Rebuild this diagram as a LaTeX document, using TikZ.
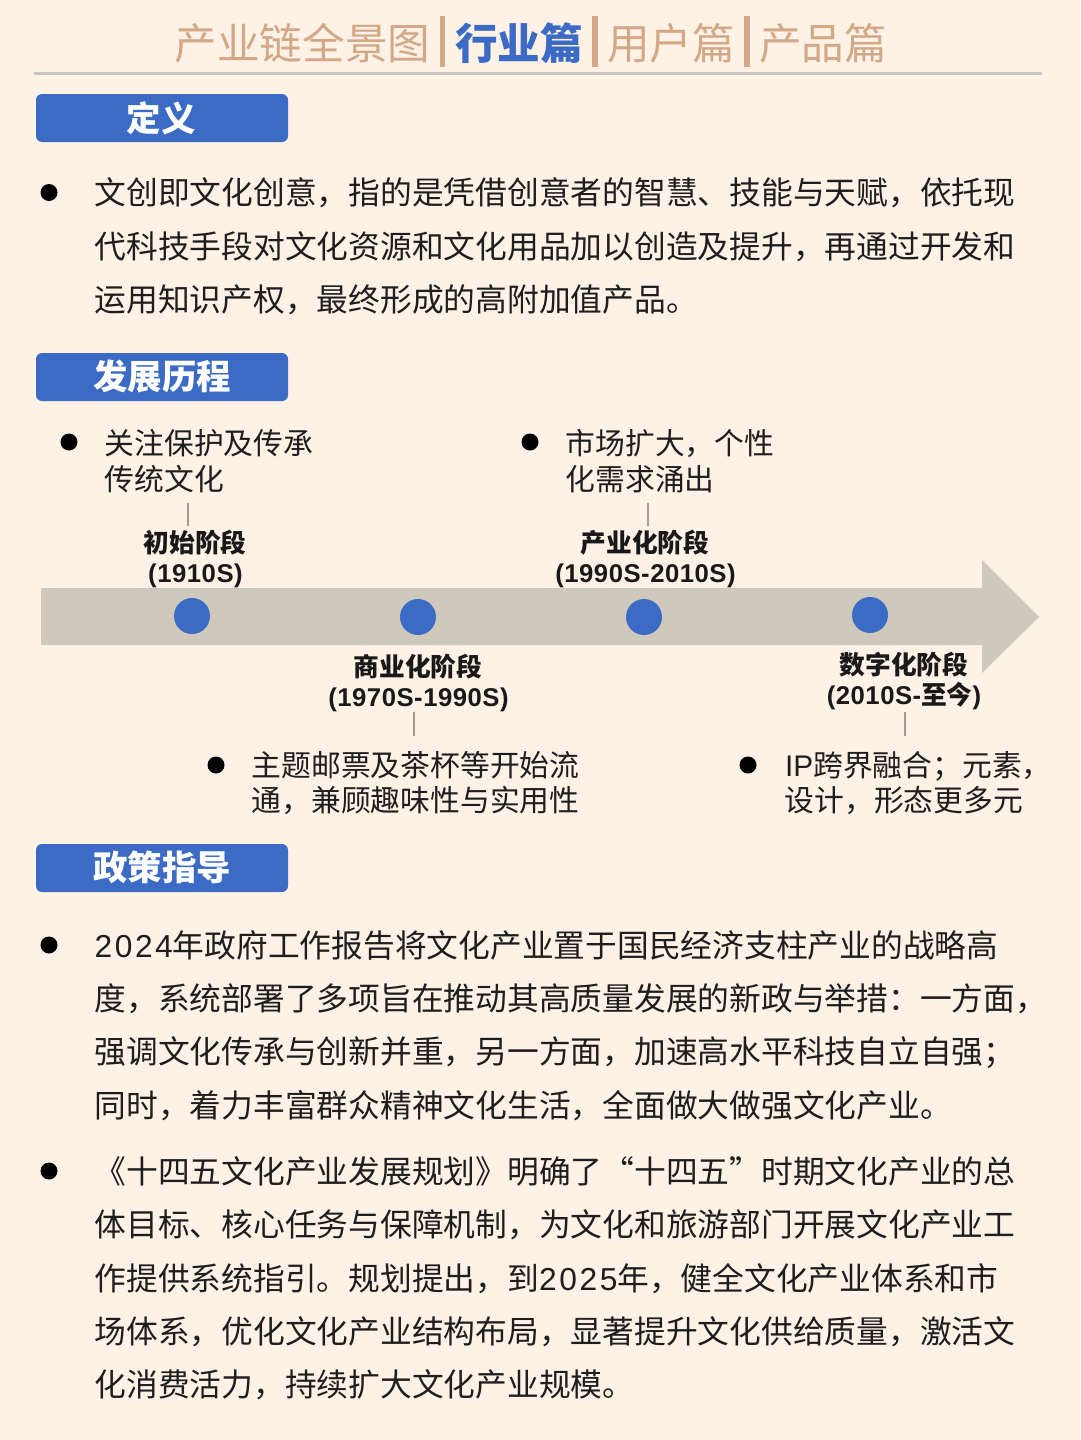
\documentclass[tikz,border=0pt]{standalone}
\usepackage{fontspec}
\setmainfont{Noto Sans CJK SC}
\newfontfamily\latfont[LetterSpace=8]{Liberation Sans}
\newfontfamily\labfont[LetterSpace=2]{Liberation Sans}
\newfontfamily\ipfont{Liberation Sans}
\newcommand{\lt}[1]{{\latfont #1}}
\newcommand{\lb}[1]{{\labfont\bfseries #1}}
\definecolor{bgc}{HTML}{FEF1E6}
\definecolor{bluec}{HTML}{3B6BC4}
\definecolor{tanc}{HTML}{D2A887}
\definecolor{arrowc}{HTML}{CFC9BD}
\definecolor{rulec}{HTML}{C9C5BC}
\definecolor{inkc}{HTML}{1E1E1E}
\tikzset{
  tabtext/.style={inner sep=0pt,text=tanc,font=\fontsize{42.6}{50}\selectfont},
  tabon/.style={inner sep=0pt,text=bluec,font=\fontsize{42.6}{50}\selectfont\bfseries},
  tabbar/.style={fill=tanc,draw=none},
  headbox/.style={fill=bluec,draw=none,rounded corners=6pt,minimum width=252pt,minimum height=48pt,inner sep=0pt},
  headtext/.style={inner sep=0pt,text=white,font=\fontsize{34.4}{40}\selectfont\bfseries},
  bodyline/.style={anchor=base west,inner sep=0pt,text=inkc,font=\fontsize{31.75}{38}\selectfont},
  bul/.style={circle,fill=black,minimum size=17pt,inner sep=0pt},
  dot/.style={circle,fill=bluec,minimum size=36pt,inner sep=0pt},
  tlline/.style={anchor=base west,inner sep=0pt,text=inkc,font=\fontsize{29.8}{36}\selectfont},
  stagelab/.style={anchor=base,inner sep=0pt,text=black!90,font=\fontsize{25.7}{30}\selectfont\bfseries},
  conn/.style={draw=black!35!bgc,line width=1.6pt}
}
\begin{document}
\begin{tikzpicture}[x=1pt,y=-1pt]
\useasboundingbox[fill=bgc] (0,0) rectangle (1080,1440);
% tabs
\node[tabtext] (t1) at (302.5,43) {产业链全景图};
\node[tabon] (t2) at (519,43) {行业篇};
\node[tabtext] (t3) at (671,43) {用户篇};
\node[tabtext] (t4) at (823,43) {产品篇};
\fill[tabbar] (439.5,16) rectangle (445,67);
\fill[tabbar] (592,16) rectangle (597.5,67);
\fill[tabbar] (744,16) rectangle (749.5,67);
\fill[rulec] (34,72) rectangle (1042,74.5);
% headings
\node[headbox] (h1) at (162,118) {};
\node[headtext] (h1t) at (161,118) {定义};
\node[headbox] (h2) at (162,377) {};
\node[headtext] (h2t) at (162,376.5) {发展历程};
\node[headbox] (h3) at (162,868) {};
\node[headtext] (h3t) at (162,867.5) {政策指导};
% definition
\node[bul] (b1) at (49,192.5) {};
\node[bodyline] (d1) at (94.5,204.5) {文创即文化创意，指的是凭借创意者的智慧、技能与天赋，依托现};
\node[bodyline] (d2) at (94.5,258) {代科技手段对文化资源和文化用品加以创造及提升，再通过开发和};
\node[bodyline] (d3) at (94.5,311.5) {运用知识产权，最终形成的高附加值产品。};
% timeline
\fill[arrowc] (41,588) -- (982,588) -- (982,560) -- (1039,617) -- (982,673) -- (982,645) -- (41,645) -- cycle;
\node[dot] (s1) at (192,616) {};
\node[dot] (s2) at (418,617) {};
\node[dot] (s3) at (644,617) {};
\node[dot] (s4) at (870,615) {};
\node[stagelab] (l1a) at (195,552) {初始阶段};
\node[stagelab] (l1b) at (195.5,582) {\lb{(1910S)}};
\node[stagelab] (l3a) at (645,552) {产业化阶段};
\node[stagelab] (l3b) at (645.5,582) {\lb{(1990S-2010S)}};
\node[stagelab] (l2a) at (418,676) {商业化阶段};
\node[stagelab] (l2b) at (418.5,706) {\lb{(1970S-1990S)}};
\node[stagelab] (l4a) at (904,674) {数字化阶段};
\node[stagelab] (l4b) at (904,704) {\lb{(2010S-}至今\lb{)}};
\coordinate (c1a) at (188,503); \coordinate (c1b) at (188,526);
\coordinate (c3a) at (648,503); \coordinate (c3b) at (648,526);
\coordinate (c2a) at (414,712); \coordinate (c2b) at (414,736);
\coordinate (c4a) at (905,712); \coordinate (c4b) at (905,736);
\draw[conn] (c1a) -- (c1b);
\draw[conn] (c3a) -- (c3b);
\draw[conn] (c2a) -- (c2b);
\draw[conn] (c4a) -- (c4b);
\node[bul] (b2) at (69,442) {};
\node[tlline] (e1) at (104.5,454) {关注保护及传承};
\node[tlline] (e2) at (104.5,490) {传统文化};
\node[bul] (b3) at (530,442) {};
\node[tlline] (f1) at (565.5,454) {市场扩大，个性};
\node[tlline] (f2) at (565.5,490) {化需求涌出};
\node[bul] (b4) at (216,765) {};
\node[tlline] (g1) at (251.5,776) {主题邮票及茶杯等开始流};
\node[tlline] (g2) at (251.5,811.5) {通，兼顾趣味性与实用性};
\node[bul] (b5) at (748,765) {};
\node[tlline] (k1) at (785,776) {{\ipfont IP}跨界融合；元素，};
\node[tlline] (k2) at (784.5,811.5) {设计，形态更多元};
% policy
\node[bul] (b6) at (49,945) {};
\node[bodyline] (p1) at (94.5,957) {\lt{2024}年政府工作报告将文化产业置于国民经济支柱产业的战略高};
\node[bodyline] (p2) at (94.5,1010.5) {度，系统部署了多项旨在推动其高质量发展的新政与举措：一方面，};
\node[bodyline] (p3) at (94.5,1063.5) {强调文化传承与创新并重，另一方面，加速高水平科技自立自强；};
\node[bodyline] (p4) at (94.5,1117) {同时，着力丰富群众精神文化生活，全面做大做强文化产业。};
\node[bul] (b7) at (49,1171) {};
\node[bodyline] (q1) at (94.5,1183) {《十四五文化产业发展规划》明确了“十四五”时期文化产业的总};
\node[bodyline] (q2) at (94.5,1236.5) {体目标、核心任务与保障机制，为文化和旅游部门开展文化产业工};
\node[bodyline] (q3) at (94.5,1290) {作提供系统指引。规划提出，到\lt{2025}年，健全文化产业体系和市};
\node[bodyline] (q4) at (94.5,1343) {场体系，优化文化产业结构布局，显著提升文化供给质量，激活文};
\node[bodyline] (q5) at (94.5,1396.5) {化消费活力，持续扩大文化产业规模。};
\end{tikzpicture}
\end{document}
